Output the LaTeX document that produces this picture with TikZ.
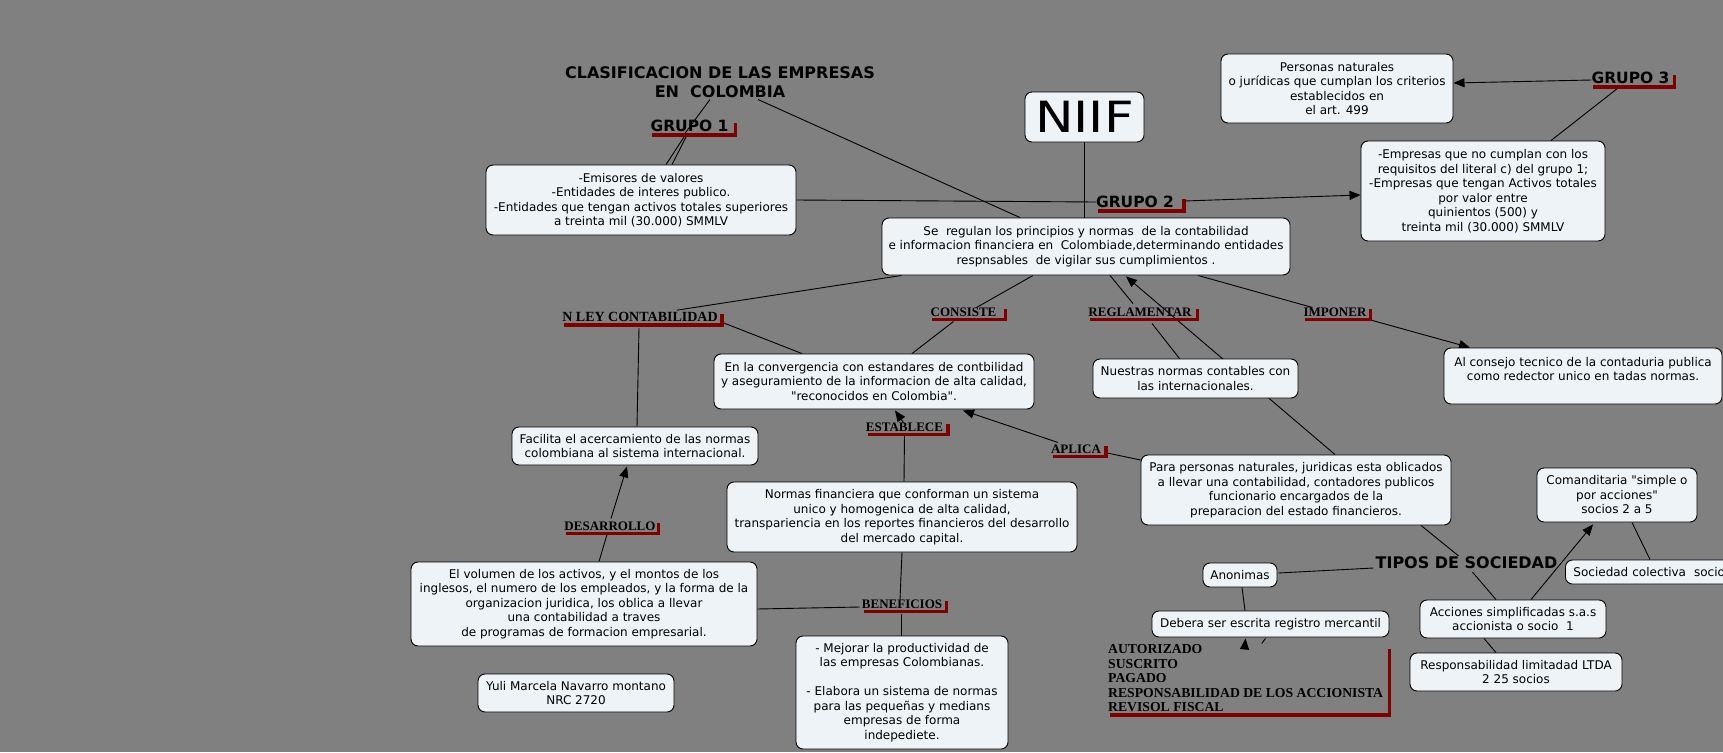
\documentclass[tikz,border=0pt]{standalone}
\usepackage{fontspec}
\setmainfont{DejaVu Sans}
\newfontfamily\labfont{Liberation Serif}
\usetikzlibrary{calc,arrows.meta}
\pgfdeclarelayer{bg}
\pgfsetlayers{bg,main}
\definecolor{bgray}{RGB}{128,128,128}
\definecolor{boxfill}{RGB}{237,243,246}
\definecolor{redc}{RGB}{128,0,0}
\newcommand\dq{\XeTeXglyph\XeTeXcharglyph"22\relax}
\newcommand\ubr[2][6]{\draw[redl] ($(#2.south west)+(2,3)$) -- ($(#2.south east)+(#1,3)$) -- ($(#2.east)+(#1,-3)$);}
\begin{document}
\begin{tikzpicture}[x=1pt,y=-1pt,
  box/.style={draw=black, line width=0.9pt, fill=boxfill, rounded corners=7pt, align=center, inner sep=0pt, font=\fontsize{12}{14.5}\selectfont},
  lab/.style={inner sep=0pt, text depth=0pt, font=\labfont\bfseries\fontsize{13}{14.5}\selectfont},
  grp/.style={inner sep=0pt, text depth=0pt, font=\bfseries\fontsize{15.5}{19}\selectfont},
  conn/.style={draw=black, line width=0.9pt},
  arr/.style={conn, -{Triangle[length=11pt,width=9pt]}},
  redl/.style={draw=redc, line width=3.5pt}
]
\begin{pgfonlayer}{bg}
\fill[bgray] (0,0) rectangle (1723,752);
\end{pgfonlayer}
\useasboundingbox (0,0) rectangle (1723,752);

% ---------- nodes ----------
\node[inner sep=0pt, align=center, font=\bfseries\fontsize{16}{19}\selectfont] (title) at (720,82.5) {CLASIFICACION DE LAS EMPRESAS\\EN\ \ COLOMBIA};
\node[grp] (g1) at (689.5,126) {GRUPO 1};
\node[grp] (g2) at (1135,202) {GRUPO 2};
\node[grp] (g3) at (1630.5,78) {GRUPO 3};

\node[box, minimum width=310, minimum height=70] (box1) at (641,200) {-Emisores de valores\\-Entidades de interes publico.\\-Entidades que tengan activos totales superiores\\a treinta mil (30.000) SMMLV};
\node[box, minimum width=119, minimum height=50, font=\fontsize{43}{43}\selectfont] (niif) at (1084.5,117) {\scalebox{1.2}[1]{NIIF}};
\node[box, minimum width=244, minimum height=100] (g2box) at (1483,191) {-Empresas que no cumplan con los\\requisitos del literal c) del grupo 1;\\-Empresas que tengan Activos totales\\por valor entre\\quinientos (500) y\\treinta mil (30.000) SMMLV};
\node[box, minimum width=232, minimum height=69] (personas) at (1337,88.5) {Personas naturales\\o jurídicas que cumplan los criterios\\establecidos en\\el art. 499};
\node[box, minimum width=408, minimum height=57] (seregulan) at (1086,246.5) {Se\ \ regulan los principios y normas\ \ de la contabilidad\\e informacion financiera en\ \ Colombiade,determinando entidades\\respnsables\ \ de vigilar sus cumplimientos .};

\node[lab, font=\labfont\bfseries\fontsize{14}{14.5}\selectfont] (nley) at (640,317) {N LEY CONTABILIDAD};
\node[lab] (consiste) at (963.5,312) {CONSISTE};
\node[lab] (reglamentar) at (1140,312) {REGLAMENTAR};
\node[lab] (imponer) at (1335,312) {IMPONER};
\node[lab] (establece) at (904.5,427) {ESTABLECE};
\node[lab] (aplica) at (1076,449) {APLICA};
\node[lab] (desarrollo) at (610,526) {DESARROLLO};
\node[lab] (beneficios) at (902,604) {BENEFICIOS};

\node[box, minimum width=320, minimum height=55] (conv) at (874,381.5) {En la convergencia con estandares de contbilidad\\y aseguramiento de la informacion de alta calidad,\\\dq reconocidos en Colombia\dq.};
\node[box, minimum width=205, minimum height=39] (nuestras) at (1195.5,378.5) {Nuestras normas contables con\\las internacionales.};
\node[box, minimum width=278, minimum height=56] (consejo) at (1583,376) {Al consejo tecnico de la contaduria publica\\como redector unico en tadas normas.\\\mbox{}};
\node[box, minimum width=246, minimum height=38] (facilita) at (635,446) {Facilita el acercamiento de las normas\\colombiana al sistema internacional.};
\node[box, minimum width=350, minimum height=70] (normas) at (902,517) {Normas financiera que conforman un sistema\\unico y homogenica de alta calidad,\\transpariencia en los reportes financieros del desarrollo\\del mercado capital.};
\node[box, minimum width=310, minimum height=70] (parapersonas) at (1296,490) {Para personas naturales, juridicas esta oblicados\\a llevar una contabilidad, contadores publicos\\funcionario encargados de la\\preparacion del estado financieros.};
\node[box, minimum width=160, minimum height=54] (comanditaria) at (1617,495) {Comanditaria \dq simple o\\por acciones\dq\\socios 2 a 5};
\node[grp, font=\bfseries\fontsize{16}{19}\selectfont] (tipos) at (1466.5,563) {TIPOS DE SOCIEDAD};
\node[box, minimum width=346, minimum height=84] (volumen) at (584,604) {El volumen de los activos, y el montos de los\\inglesos, el numero de los empleados, y la forma de la\\organizacion juridica, los oblica a llevar\\una contabilidad a traves\\de programas de formacion empresarial.};
\node[box, minimum width=74, minimum height=24] (anonimas) at (1240,575) {Anonimas};
\node[box, anchor=west, minimum height=24, inner xsep=8pt, text width=184pt, align=left] (socied) at (1565,572) {Sociedad colectiva\ \ socio};
\node[box, minimum width=237, minimum height=26] (debera) at (1270.5,624) {Debera ser escrita registro mercantil};
\node[box, minimum width=186, minimum height=38] (acciones) at (1513,619) {Acciones simplificadas s.a.s\\accionista o socio\ \ 1};
\node[box, minimum width=212, minimum height=38] (responsab) at (1516,672) {Responsabilidad limitadad LTDA\\2 25 socios};
\node[box, minimum width=212, minimum height=113] (mejorar) at (902,692.5) {- Mejorar la productividad de\\las empresas Colombianas.\\\mbox{}\\- Elabora un sistema de normas\\para las pequeñas y medians\\empresas de forma\\indepediete.};
\node[box, minimum width=196, minimum height=38] (yuli) at (576,693) {Yuli Marcela Navarro montano\\NRC 2720};
\node[lab, align=left, anchor=north west, font=\labfont\bfseries\fontsize{13.7}{14.5}\selectfont] (autoriz) at (1108,644.5) {AUTORIZADO\\SUSCRITO\\PAGADO\\RESPONSABILIDAD DE LOS ACCIONISTA\\REVISOL FISCAL};

% ---------- red underlines ----------
\ubr[7]{g1}
\ubr[10]{g2}
\ubr[5]{g3}
\ubr[4]{nley}
\ubr[9]{consiste}
\ubr[6]{reglamentar}
\ubr[4]{imponer}
\ubr[5]{establece}
\ubr[5]{aplica}
\ubr[3]{desarrollo}
\ubr[4]{beneficios}
\draw[redl] ($(autoriz.south west)+(2,3)$) -- ($(autoriz.south east)+(6,3)$) -- ($(autoriz.north east)+(6,4)$);

% ---------- connectors ----------
\begin{pgfonlayer}{bg}
\draw[conn] ($(title)+(-10,17)$) -- ($(g1)+(-6.5,10)$);
\draw[conn] ($(g1)+(-5.5,11)$) -- ($(box1.north)+(25,0)$);
\draw[conn] ($(g1)+(-3.5,11)$) -- ($(box1.north)+(31,0)$);
\draw[conn] ($(title)+(38,17)$) -- ($(seregulan.north)+(-66,0)$);
\draw[conn] (box1.east) -- (g2.west);
\draw[arr] ($(g2.east)+(10,-1)$) -- ($(g2box.west)+(0,4)$);
\draw[conn] (niif.south) -- (niif.south |- seregulan.north);
\draw[arr] ($(g3.west)+(0,2)$) -- ($(personas.east)+(0,-5.5)$);
\draw[conn] ($(g3)+(-12.5,10)$) -- ($(g2box.north)+(68,0)$);
\draw[conn] ($(seregulan.south west)+(20,0)$) -- ($(nley.north)+(37,-2)$);
\draw[conn] ($(nley.east)+(6,6)$) -- ($(conv.north)+(-72,0)$);
\draw[conn] ($(nley.south)+(-1,6)$) -- ($(facilita.north)+(2,0)$);
\draw[conn] ($(seregulan.south)+(-53,0)$) -- ($(consiste.north)+(13,0)$);
\draw[conn] ($(consiste.south)+(-10,5)$) -- ($(conv.north)+(38,0)$);
\draw[conn] ($(seregulan.south)+(24,0)$) -- ($(reglamentar.north)+(-7,-4)$);
\draw[conn] ($(reglamentar.south)+(12,7)$) -- ($(nuestras.north)+(-16,0)$);
\draw[arr] ($(parapersonas.north)+(39,0)$) -- ($(seregulan.south)+(40,1)$);
\draw[conn] ($(seregulan.south)+(112,0)$) -- ($(imponer.north west)+(9,0)$);
\draw[arr] ($(imponer.east)+(4,8)$) -- ($(consejo.north)+(-113,0)$);
\draw[arr] ($(establece.north)+(-1,0)$) -- ($(conv.south)+(21,1)$);
\draw[conn] ($(establece.south)+(0,3)$) -- ($(normas.north)+(2,0)$);
\draw[arr] ($(aplica.north)+(-18,-2)$) -- ($(conv.south)+(89,1)$);
\draw[conn] ($(aplica.east)+(6,4)$) -- ($(parapersonas.west)+(0,-30)$);
\draw[arr] ($(desarrollo.north)+(1,-3)$) -- ($(facilita.south)+(-8,1)$);
\draw[conn] ($(volumen.north)+(15,0)$) -- ($(desarrollo.south)+(-3,4)$);
\draw[conn] ($(volumen.east)+(0,5)$) -- ($(beneficios.west)+(-2,3)$);
\draw[conn] (normas.south) -- ($(beneficios.north)+(-2,0)$);
\draw[conn] ($(beneficios.south)+(-1,5)$) -- ($(mejorar.north)+(-1,0)$);
\draw[conn] ($(parapersonas.south)+(125,0)$) -- ($(tipos.north)+(-8,-1)$);
\draw[conn] ($(tipos.west)+(-2,5)$) -- ($(anonimas.east)+(1,-2)$);
\draw[conn] ($(anonimas.south)+(2,0)$) -- ($(debera.north)+(-25.5,0)$);
\draw[arr] ($(autoriz.north)+(-1,3)$) -- ($(debera.south)+(-25,1)$);
\draw[conn] ($(debera.south)+(-5,1)$) -- ($(autoriz.north)+(16,-1)$);
\draw[conn] ($(tipos.south)+(6,3)$) -- ($(acciones.north)+(-17,0)$);
\draw[arr] ($(acciones.north)+(18,0)$) -- ($(comanditaria.south)+(-24,2)$);
\draw[conn] ($(comanditaria.south)+(15,0)$) -- ($(socied.north west)+(85,0)$);
\draw[conn] ($(acciones.south)+(-29,0)$) -- ($(responsab.north)+(-20,0)$);
\end{pgfonlayer}
\end{tikzpicture}
\end{document}
